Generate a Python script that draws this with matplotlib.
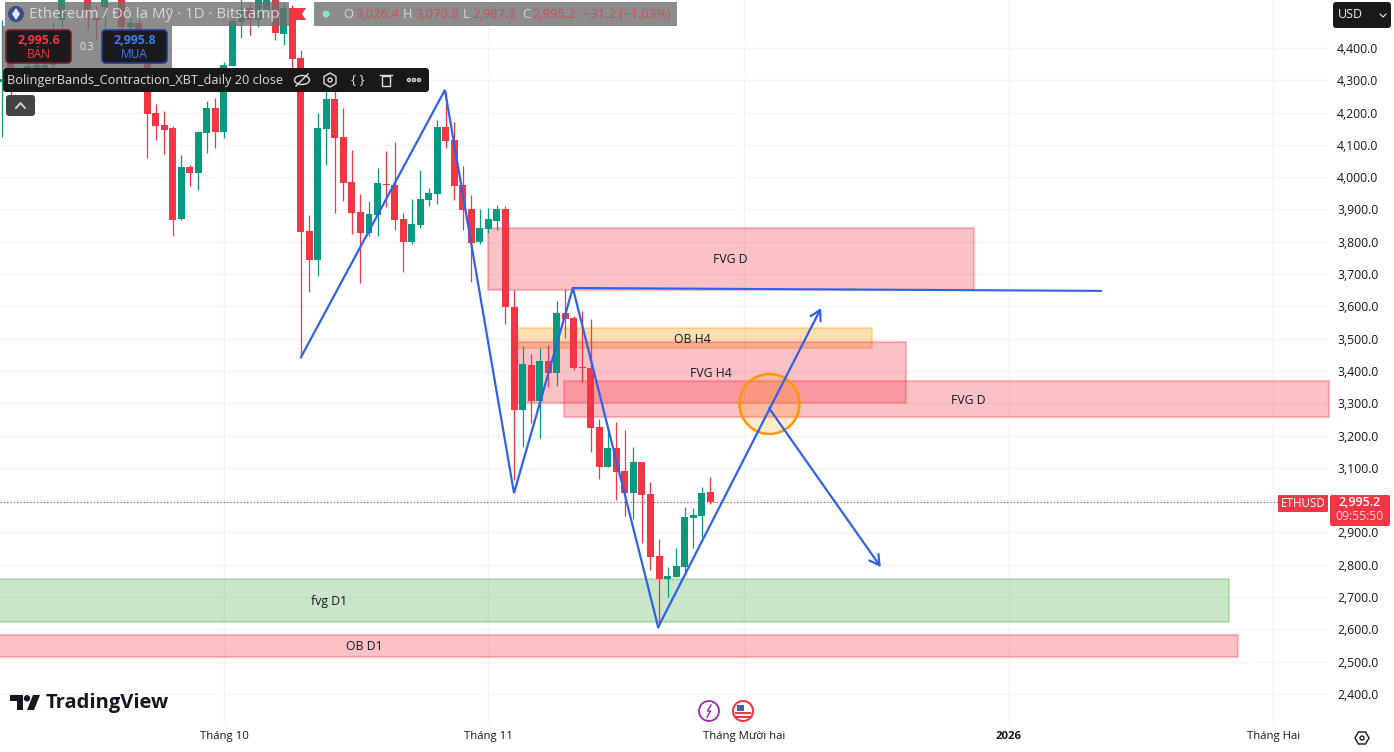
import matplotlib
matplotlib.use('Agg')
import matplotlib.pyplot as plt
from matplotlib.patches import Rectangle, Ellipse, FancyBboxPatch, Polygon, Circle
from matplotlib.transforms import Affine2D

plt.rcParams['font.family'] = ['Open Sans', 'DejaVu Sans']

# daily candles, day number counted from 1 Oct
days = [-26, -25, -23, -22, -21, -20, -19, -16, -15, -14, -12, -11, -10, -9, -8, -7, -6, -5, -4, -3, -2, -1,
        0, 1, 2, 3, 4, 5, 6, 7, 8, 9, 10, 11, 12, 13, 14, 15, 16, 17, 18, 19, 20, 21, 22, 23, 24, 25, 26, 27, 28, 29,
        30, 31, 32, 33, 34, 35, 36, 37, 38, 39, 40, 41, 42, 43, 44, 45, 46, 47, 48, 49, 50, 51, 52, 53, 54, 55, 56, 57]
opens = [4295, 4363, 4270, 4276, 4285, 4347, 4487, 4555, 4493, 4527, 4555, 4465, 4477, 4363, 4199, 4162, 4152, 3871, 4032, 4013, 4137, 4214,
         4140, 4344, 4480, 4524, 4487, 4518, 4555, 4443, 4524, 4369, 3833, 3744, 4149, 4242, 4124, 3985, 3892, 3827, 3883, 3979, 3976, 3871, 3799, 3852, 3929, 3948, 4155, 4115, 3976, 3901,
         3799, 3840, 3864, 3901, 3598, 3279, 3418, 3307, 3431, 3394, 3580, 3564, 3412, 3409, 3227, 3103, 3162, 3090, 3022, 3118, 3019, 2827, 2756, 2762, 2793, 2945, 2951, 3026.4]
highs = [4487, 4425, 4363, 4357, 4363, 4477, 4570, 4570, 4533, 4570, 4570, 4493, 4487, 4378, 4227, 4205, 4158, 4069, 4038, 4143, 4236, 4245,
         4357, 4502, 4560, 4539, 4558, 4564, 4564, 4539, 4533, 4394, 3883, 4199, 4270, 4276, 4214, 4084, 3948, 3926, 4028, 4081, 4109, 3889, 3932, 4022, 3966, 4177, 4264, 4171, 4035, 3945,
         3901, 3905, 3914, 3911, 3651, 3477, 3453, 3471, 3480, 3617, 3654, 3570, 3586, 3561, 3251, 3227, 3242, 3217, 3165, 3118, 3056, 2880, 2793, 2852, 2979, 2976, 3041, 3070.8]
lows = [4124, 4239, 4267, 4270, 4270, 4326, 4456, 4462, 4425, 4450, 4456, 4450, 4363, 4059, 4115, 4072, 3818, 3868, 3973, 3960, 4075, 4090,
        4121, 4344, 4431, 4440, 4465, 4502, 4425, 4409, 4338, 3440, 3645, 3694, 4038, 3889, 3926, 3824, 3672, 3818, 3818, 3908, 3836, 3706, 3793, 3843, 3911, 3917, 4090, 3929, 3836, 3675,
        3793, 3827, 3836, 3545, 3063, 3165, 3239, 3193, 3350, 3354, 3502, 3403, 3366, 3149, 3066, 3103, 3000, 2951, 2942, 2867, 2784, 2614, 2700, 2762, 2768, 2852, 2886, 2987.3]
closes = [4304, 4285, 4344, 4347, 4347, 4425, 4558, 4518, 4487, 4555, 4465, 4477, 4363, 4196, 4159, 4146, 3868, 4032, 4013, 4140, 4214, 4140,
          4347, 4484, 4518, 4487, 4549, 4555, 4446, 4524, 4366, 3830, 3744, 4152, 4242, 4121, 3982, 3889, 3827, 3886, 3982, 3976, 3868, 3799, 3855, 3932, 3951, 4155, 4112, 3973, 3898, 3796,
          3843, 3871, 3901, 3598, 3279, 3422, 3307, 3431, 3394, 3580, 3561, 3409, 3409, 3223, 3103, 3162, 3087, 3022, 3118, 3016, 2824, 2756, 2765, 2796, 2948, 2954, 3022, 2995.2]

# drawn zones: day start, day end, price low, price high, label, label day, label price
zone_names = ['FVG D', 'OB H4', 'FVG H4', 'FVG D', 'fvg D1', 'OB D1']
zone_start = [31.0, 34.35, 34.35, 39.86, -27, -27]
zone_end = [87.9, 76.0, 79.95, 129.5, 117.8, 118.9]
zone_low = [3651, 3471, 3301, 3258, 2623, 2515]
zone_high = [3843, 3533, 3490, 3369, 2756, 2583]
zone_label_day = [59.4, 54.9, 57.1, 87.3, 12.3, 16.4]
zone_label_price = [3745, 3497, 3392, 3308, 2686, 2547]
zone_fill = ['#f23645', '#ff9800', '#f23645', '#f23645', '#4caf50', '#f23645']

# blue drawing
zigzag_days = [9.03, 25.9, 34.0, 40.9, 50.9]
zigzag_prices = [3443, 4270, 3022, 3657, 2607]
hline_days = [40.9, 102.8]
hline_prices = [3657, 3648]
arrow_up = [(50.9, 2607), (70.0, 3595)]
arrow_down = [(63.9, 3285), (77.0, 2793)]

price_ticks = [2400, 2500, 2600, 2700, 2800, 2900, 3000, 3100, 3200, 3300, 3400, 3500, 3600, 3700, 3800, 3900, 4000, 4100, 4200, 4300, 4400]
month_days = [0, 31, 61, 92, 123]
month_labels = ['Tháng 10', 'Tháng 11', 'Tháng Mười hai', '2026', 'Tháng Hai']
last_price = 2995.2

RED = '#f23645'
GREEN = '#089981'
BLUE = '#2f62e6'

fig = plt.figure(figsize=(13.94, 7.52), dpi=100, facecolor='white')
ax = fig.add_axes([0, 1 - 725 / 752, 1328 / 1394, 725 / 752])
ax.set_xlim(-26.26, 129.43)
ax.set_ylim(2304, 4548.6)
for s in ax.spines.values():
    s.set_visible(False)

ax.yaxis.tick_right()
ax.set_yticks(price_ticks)
# 3,000.0 sits behind the last price tag, so it has no label
ax.set_yticklabels(['' if p == 3000 else f'{p:,.1f}' for p in price_ticks], fontsize=8.8, color='#131722')
ax.set_xticks(month_days)
ax.set_xticklabels(month_labels, fontsize=8.2, color='#131722')
ax.get_xticklabels()[3].set_fontweight('bold')
ax.tick_params(axis='both', length=0)
ax.tick_params(axis='y', pad=6.5)
ax.tick_params(axis='x', pad=4.5)
ax.grid(True, color='#f3f4f6', lw=1)
ax.set_axisbelow(True)

# zones
for i in range(len(zone_names)):
    ax.add_patch(Rectangle((zone_start[i], zone_low[i]), zone_end[i] - zone_start[i], zone_high[i] - zone_low[i],
                           facecolor=zone_fill[i], edgecolor='none', alpha=0.3, zorder=1, clip_on=False))
    ax.add_patch(Rectangle((zone_start[i], zone_low[i]), zone_end[i] - zone_start[i], zone_high[i] - zone_low[i],
                           facecolor='none', edgecolor=zone_fill[i], alpha=0.3, lw=1.6, zorder=1, clip_on=False))
    ax.text(zone_label_day[i], zone_label_price[i], zone_names[i], ha='center', va='center', fontsize=8.8,
            color='#131722', zorder=5)

# candles
for d, o, h, l, c in zip(days, opens, highs, lows, closes):
    col = GREEN if c > o else RED
    ax.vlines(d, l, h, color=col, lw=0.9, zorder=2)
    ax.bar(d, abs(c - o), bottom=min(o, c), width=0.82, color=col, lw=0, zorder=2)

ax.axhline(last_price, xmax=1278 / 1328, color=RED, lw=0.8, ls=(0, (1, 2)), zorder=2)

# circle on the retest
ax.add_patch(Ellipse((63.95, 3298), 7.03, 186, facecolor='#ff9800', edgecolor='none', alpha=0.2, zorder=3))
ax.add_patch(Ellipse((63.95, 3298), 7.03, 186, facecolor='none', edgecolor='#ff9800', lw=1.8, zorder=3))

# blue lines and arrows
ax.plot(zigzag_days, zigzag_prices, color=BLUE, lw=1.6, zorder=4, solid_joinstyle='miter')
ax.plot(hline_days, hline_prices, color=BLUE, lw=1.5, zorder=4)
for a in (arrow_up, arrow_down):
    ax.annotate('', xy=a[1], xytext=a[0], zorder=4,
                arrowprops=dict(arrowstyle='->,head_length=0.7,head_width=0.4', color=BLUE, lw=1.6,
                                shrinkA=0, shrinkB=0))

# everything below is placed in screen pixels
px = Affine2D().scale(1 / 1394, -1 / 752).translate(0, 1) + fig.transFigure


def box(x0, y0, x1, y1, fc, ec='none', r=0, alpha=1, lw=1, z=10):
    if r:
        p = FancyBboxPatch((x0, y0), x1 - x0, y1 - y0, boxstyle=f'round,pad=0,rounding_size={r}', fc=fc, ec=ec,
                           alpha=alpha, lw=lw, transform=px, zorder=z)
    else:
        p = Rectangle((x0, y0), x1 - x0, y1 - y0, fc=fc, ec=ec, alpha=alpha, lw=lw, transform=px, zorder=z)
    fig.add_artist(p)


def label(x, y, s, size=9, color='#131722', ha='left', weight='normal', z=12, alpha=1):
    fig.text(x / 1394, 1 - y / 752, s, fontsize=size, color=color, ha=ha, va='center', fontweight=weight, zorder=z,
             alpha=alpha)


# header
box(5, 2, 289, 26, '#6f6f6f', alpha=0.8)
box(2, 26, 172, 68, '#6f6f6f', alpha=0.8)
box(314, 2, 677, 26, '#6f6f6f', alpha=0.8)
fig.add_artist(Circle((16, 14), 8, fc='#3c4a86', ec='none', transform=px, zorder=12))
fig.add_artist(Polygon([(16, 8), (20, 14), (16, 20), (12, 14)], fc='#dfe6f5', transform=px, zorder=13))
label(29, 14, 'Ethereum / Đô la Mỹ · 1D · Bitstamp', size=10.9, color='#d8d8d8')
fig.add_artist(Circle((326, 14), 3.5, fc='#7fe8d0', ec='none', transform=px, zorder=12))
ohlc_x = [343, 355, 403, 415, 463, 472, 522, 532, 583]
ohlc_txt = ['O', '3,026.4', 'H', '3,070.8', 'L', '2,987.3', 'C', '2,995.2', '−31.2 (−1.03%)']
for x, s in zip(ohlc_x, ohlc_txt):
    single = len(s) == 1
    label(x, 14, s, size=9.3, color='#d8d8d8' if single else '#d44a58')

# flag marker
fig.add_artist(Polygon([(290, 8), (306, 8), (302, 14), (306, 20), (290, 20)], fc=RED, ec='none', transform=px, zorder=11))

# sell / buy
box(6, 30, 71, 63, '#1b1b1d', ec='#7a1f28', r=4, lw=1.2)
box(102, 30, 167, 63, '#1b1b1d', ec='#1f3f96', r=4, lw=1.2)
label(38.5, 40, '2,995.6', size=9, color=RED, ha='center', weight='bold')
label(38.5, 54, 'BÁN', size=8.6, color=RED, ha='center')
label(134.5, 40, '2,995.8', size=9, color='#3f7bf0', ha='center', weight='bold')
label(134.5, 54, 'MUA', size=8.6, color='#3f7bf0', ha='center')
label(87, 47, '0.3', size=7.5, color='#e6e6e6', ha='center')

# indicator toolbar
box(3, 68, 429, 92, '#19191b', r=3)
label(7, 80.5, 'BolingerBands_Contraction_XBT_daily 20 close', size=9.2, color='#dcdcdc')
icon = dict(fc='none', ec='#dcdcdc', lw=1, transform=px, zorder=12)
fig.add_artist(Ellipse((302, 80), 15, 9, **icon))
fig.add_artist(plt.Line2D([296, 308], [86, 74], color='#dcdcdc', lw=1, transform=px, zorder=12))
fig.add_artist(Polygon([(330, 73), (336, 76.5), (336, 83.5), (330, 87), (324, 83.5), (324, 76.5)], **icon))
fig.add_artist(Circle((330, 80), 2, **icon))
label(358, 79.5, '{ }', size=9.5, color='#dcdcdc', ha='center')
fig.add_artist(Rectangle((382, 76), 8, 10, **icon))
fig.add_artist(plt.Line2D([380, 392], [75, 75], color='#dcdcdc', lw=1, transform=px, zorder=12))
for x in (409, 414, 419):
    fig.add_artist(Circle((x, 80), 1.5, **icon))

# collapse button
box(6, 95, 35, 116, '#444444', r=3)
fig.add_artist(plt.Line2D([16, 20.5, 25], [108, 103, 108], color='#d8d8d8', lw=1.3, transform=px, zorder=12))

# price axis widgets
box(1333, 2, 1391, 28, '#19191b', r=3)
label(1338, 15, 'USD', size=9, color='#f0f0f0')
fig.add_artist(plt.Line2D([1380, 1383, 1386], [14, 17, 14], color='#f0f0f0', lw=0.8, transform=px, zorder=12))
box(1278, 495, 1328, 512, RED, r=1)
label(1303, 503.5, 'ETHUSD', size=8.4, color='white', ha='center')
box(1330, 495, 1390, 526, RED, r=2)
label(1360, 503, '2,995.2', size=9, color='white', ha='center', weight='semibold')
label(1360, 517, '09:55:50', size=8.8, color='#fbd0d4', ha='center')

# logo
fig.add_artist(Polygon([(10, 695), (23, 695), (23, 710), (17, 710), (17, 701), (10, 701)], fc='#131722', ec='none',
                       transform=px, zorder=12))
fig.add_artist(Circle((27, 698.3), 3.2, fc='#131722', ec='none', transform=px, zorder=12))
fig.add_artist(Polygon([(33, 695), (40, 695), (34, 710), (27, 710)], fc='#131722', ec='none', transform=px, zorder=12))
label(46, 703, 'TradingView', size=14.5, color='#131722', weight='bold')

# event icons
fig.add_artist(Circle((709, 711), 10, fc='white', ec='#9c27b0', lw=1.3, transform=px, zorder=12))
fig.add_artist(plt.Line2D([711, 707.5, 710.5, 707], [705, 711, 711, 717], color='#9c27b0', lw=1, transform=px, zorder=13))
fig.add_artist(Circle((743, 711), 10, fc='white', ec=RED, lw=1.5, transform=px, zorder=12))
for y in (712, 716):
    box(735, y, 751, y + 2, RED, z=13)
box(737, 705, 744, 711, '#3f5fb5', z=13)

# settings hexagon
fig.add_artist(Polygon([(1355, 738), (1358.5, 732), (1365.5, 732), (1369, 738), (1365.5, 744), (1358.5, 744)],
                       fc='none', ec='#131722', lw=1, transform=px, zorder=12))
fig.add_artist(Circle((1362, 738), 2, fc='none', ec='#131722', lw=1, transform=px, zorder=12))

fig.savefig('out.png', dpi=100)
